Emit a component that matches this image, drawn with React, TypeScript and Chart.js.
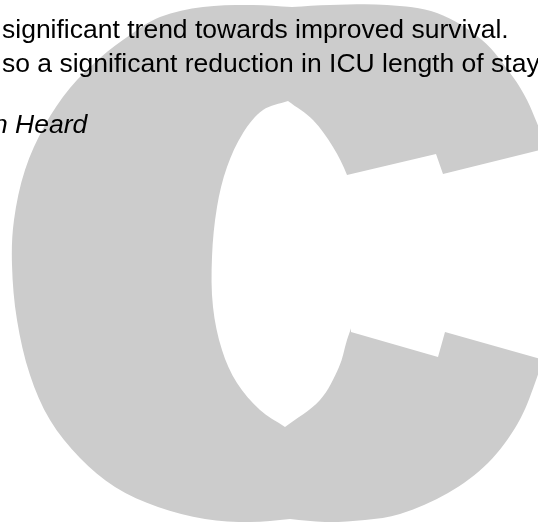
import React, { useEffect, useRef } from "react";
import { Chart, registerables } from "chart.js";

Chart.register(...registerables);

type Pt = [number, number];

// Visible (cropped) text of the page
const headlineLines = [
  "significant trend towards improved survival.",
  "so a significant reduction in ICU length of stay",
];
const creditText = "n Heard";

// Outline of the grey letter "C", in picture units (x right, y down)
// left lobe: from the top notch, round the left side, to the bottom notch
const leftLobe: Pt[] = [
  [292, 7], [253, 5], [203, 7], [160, 17], [130, 35], [100, 58], [70, 88],
  [45, 125], [25, 170], [14, 220], [12, 265], [17, 320], [30, 375],
  [50, 420], [80, 458], [115, 487], [158, 507], [205, 519], [250, 522],
  [290, 519],
];
// right lobe: from the bottom notch, round the right side, back to the top notch
const rightLobe: Pt[] = [
  [290, 519], [325, 522], [365, 520], [400, 514], [448, 493], [488, 463],
  [518, 423], [535, 383], [548, 340], [557, 295], [560, 250], [557, 200],
  [552, 160], [537, 123], [527, 100], [513, 77], [482, 40], [437, 13],
  [387, 5], [330, 5], [292, 7],
];
// inner lens (white): left arc top -> bottom, right arc bottom -> top
const lensLeft: Pt[] = [
  [288, 101], [263, 110], [243, 133], [227, 167], [217, 207], [212, 257],
  [213, 307], [222, 350], [237, 383], [260, 410], [285, 427],
];
const lensRight: Pt[] = [
  [285, 427], [320, 400], [339, 367], [347, 340], [352, 325], [359, 295],
  [362, 255], [358, 212], [347, 175], [333, 147], [313, 120], [288, 101],
];
// mouth of the C (white, straight edges)
const opening: Pt[] = [
  [347, 175], [436, 154], [443, 174], [548, 148], [548, 361], [445, 332],
  [438, 357], [351, 332],
];

const GREY = "#cccccc";
const WIDTH = 538;
const HEIGHT = 525;

const toPoints = (pts: Pt[]) => pts.map(([x, y]) => ({ x, y }));

const textPlugin = {
  id: "pageText",
  afterDatasetsDraw(chart: any) {
    const { ctx, scales } = chart;
    const px = (v: number) => scales.x.getPixelForValue(v);
    const py = (v: number) => scales.y.getPixelForValue(v);
    ctx.save();
    ctx.fillStyle = "#000000";
    ctx.textBaseline = "alphabetic";
    ctx.textAlign = "left";
    ctx.font = '26.5px "Liberation Sans", Arial, sans-serif';
    ctx.fillText(headlineLines[0], px(2), py(38));
    ctx.fillText(headlineLines[1], px(2), py(72));
    ctx.font = 'italic 26.5px "Liberation Sans", Arial, sans-serif';
    ctx.fillText(creditText, px(-7), py(133));
    ctx.restore();
  },
};

export default function App() {
  const canvasRef = useRef<HTMLCanvasElement | null>(null);

  useEffect(() => {
    const canvas = canvasRef.current;
    if (!canvas) return;
    const outline = [...leftLobe, ...rightLobe];
    const lens = [...lensLeft, ...lensRight];
    const chart = new Chart(canvas, {
      type: "scatter",
      data: {
        datasets: [
          {
            label: "mouth",
            data: toPoints(opening),
            showLine: true,
            fill: "shape",
            backgroundColor: "#ffffff",
            borderColor: "rgba(0,0,0,0)",
            borderWidth: 1,
            pointRadius: 0,
            tension: 0,
            order: 0,
          },
          {
            label: "lens",
            data: toPoints(lens),
            showLine: true,
            fill: "shape",
            backgroundColor: "#ffffff",
            borderColor: "rgba(0,0,0,0)",
            borderWidth: 1,
            pointRadius: 0,
            tension: 0.34,
            order: 1,
          },
          {
            label: "letter",
            data: toPoints(outline),
            showLine: true,
            fill: "shape",
            backgroundColor: GREY,
            borderColor: "rgba(0,0,0,0)",
            borderWidth: 1,
            pointRadius: 0,
            tension: 0.34,
            order: 2,
          },
        ],
      },
      options: {
        animation: false,
        responsive: false,
        maintainAspectRatio: false,
        events: [],
        layout: { padding: 0 },
        elements: { line: { capBezierPoints: false } },
        plugins: {
          legend: { display: false },
          tooltip: { enabled: false },
          title: { display: false },
        },
        scales: {
          x: { type: "linear", min: 0, max: WIDTH, display: false },
          y: { type: "linear", min: 0, max: HEIGHT, reverse: true, display: false },
        },
      },
      plugins: [textPlugin],
    });
    return () => chart.destroy();
  }, []);

  return (
    <div style={{ position: "absolute", left: 0, top: 0, width: WIDTH, height: HEIGHT, background: "#ffffff" }}>
      <canvas ref={canvasRef} width={WIDTH} height={HEIGHT} style={{ display: "block", width: WIDTH, height: HEIGHT }} />
    </div>
  );
}
